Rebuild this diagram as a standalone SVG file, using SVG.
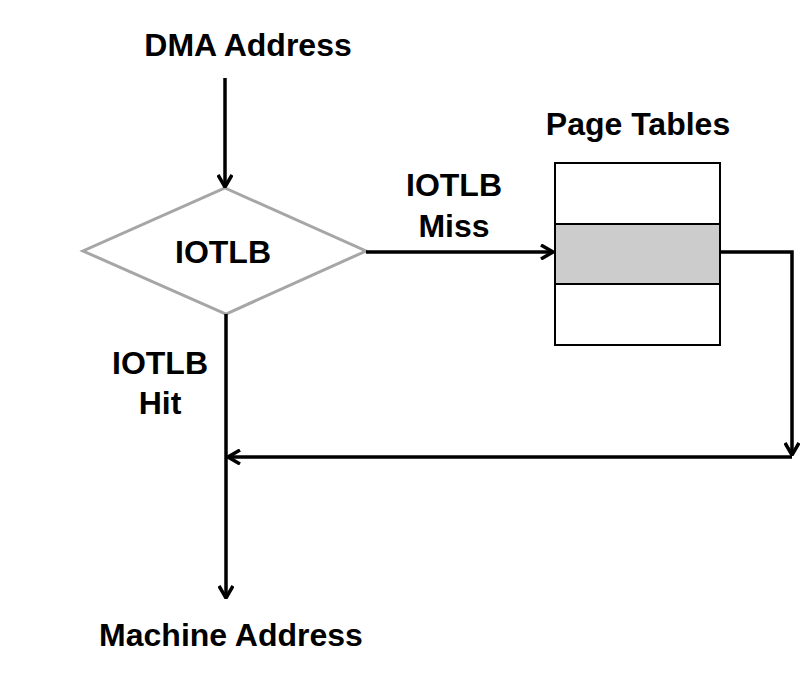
<svg xmlns="http://www.w3.org/2000/svg" width="811" height="680" viewBox="0 0 811 680">
<style>
text{font-family:"Liberation Sans",Arial,sans-serif;font-weight:bold;font-size:32px;fill:#000;text-anchor:middle}
.ln{fill:none;stroke:#000;stroke-width:3.5}
</style>
<defs>
<marker id="ah" viewBox="0 0 14 16" refX="13" refY="8" markerWidth="14" markerHeight="16" markerUnits="userSpaceOnUse" orient="auto">
<path d="M1,1 L13,8 L1,15" fill="none" stroke="#000" stroke-width="3.5"/>
</marker>
</defs>
<rect width="811" height="680" fill="#fff"/>
<g id="dma"><text x="248" y="56">DMA Address</text></g>
<g id="iotlb">
<polygon points="225,188 366,251 226,314 83,251" fill="#fff" stroke="#a6a6a6" stroke-width="3"/>
<text x="223" y="263">IOTLB</text>
</g>
<g id="pagetables">
<text x="638" y="135">Page Tables</text>
<rect x="555" y="163" width="165" height="61" fill="#fff" stroke="#000" stroke-width="2"/>
<rect x="555" y="224" width="165" height="60" fill="#cccccc" stroke="#000" stroke-width="2"/>
<rect x="555" y="284" width="165" height="61" fill="#fff" stroke="#000" stroke-width="2"/>
</g>
<g id="machine"><text x="231" y="646">Machine Address</text></g>
<g id="connectors">
<line class="ln" x1="225" y1="78" x2="225" y2="187" marker-end="url(#ah)"/>
<line class="ln" x1="366" y1="252" x2="553" y2="252" marker-end="url(#ah)"/>
<polyline class="ln" points="720,252 792,252 792,455" marker-end="url(#ah)"/>
<line class="ln" x1="792" y1="457" x2="228" y2="457" marker-end="url(#ah)"/>
<line class="ln" x1="226" y1="314" x2="226" y2="598" marker-end="url(#ah)"/>
<text x="454" y="196">IOTLB</text>
<text x="454" y="237">Miss</text>
<text x="160" y="374">IOTLB</text>
<text x="160" y="414">Hit</text>
</g>
</svg>
